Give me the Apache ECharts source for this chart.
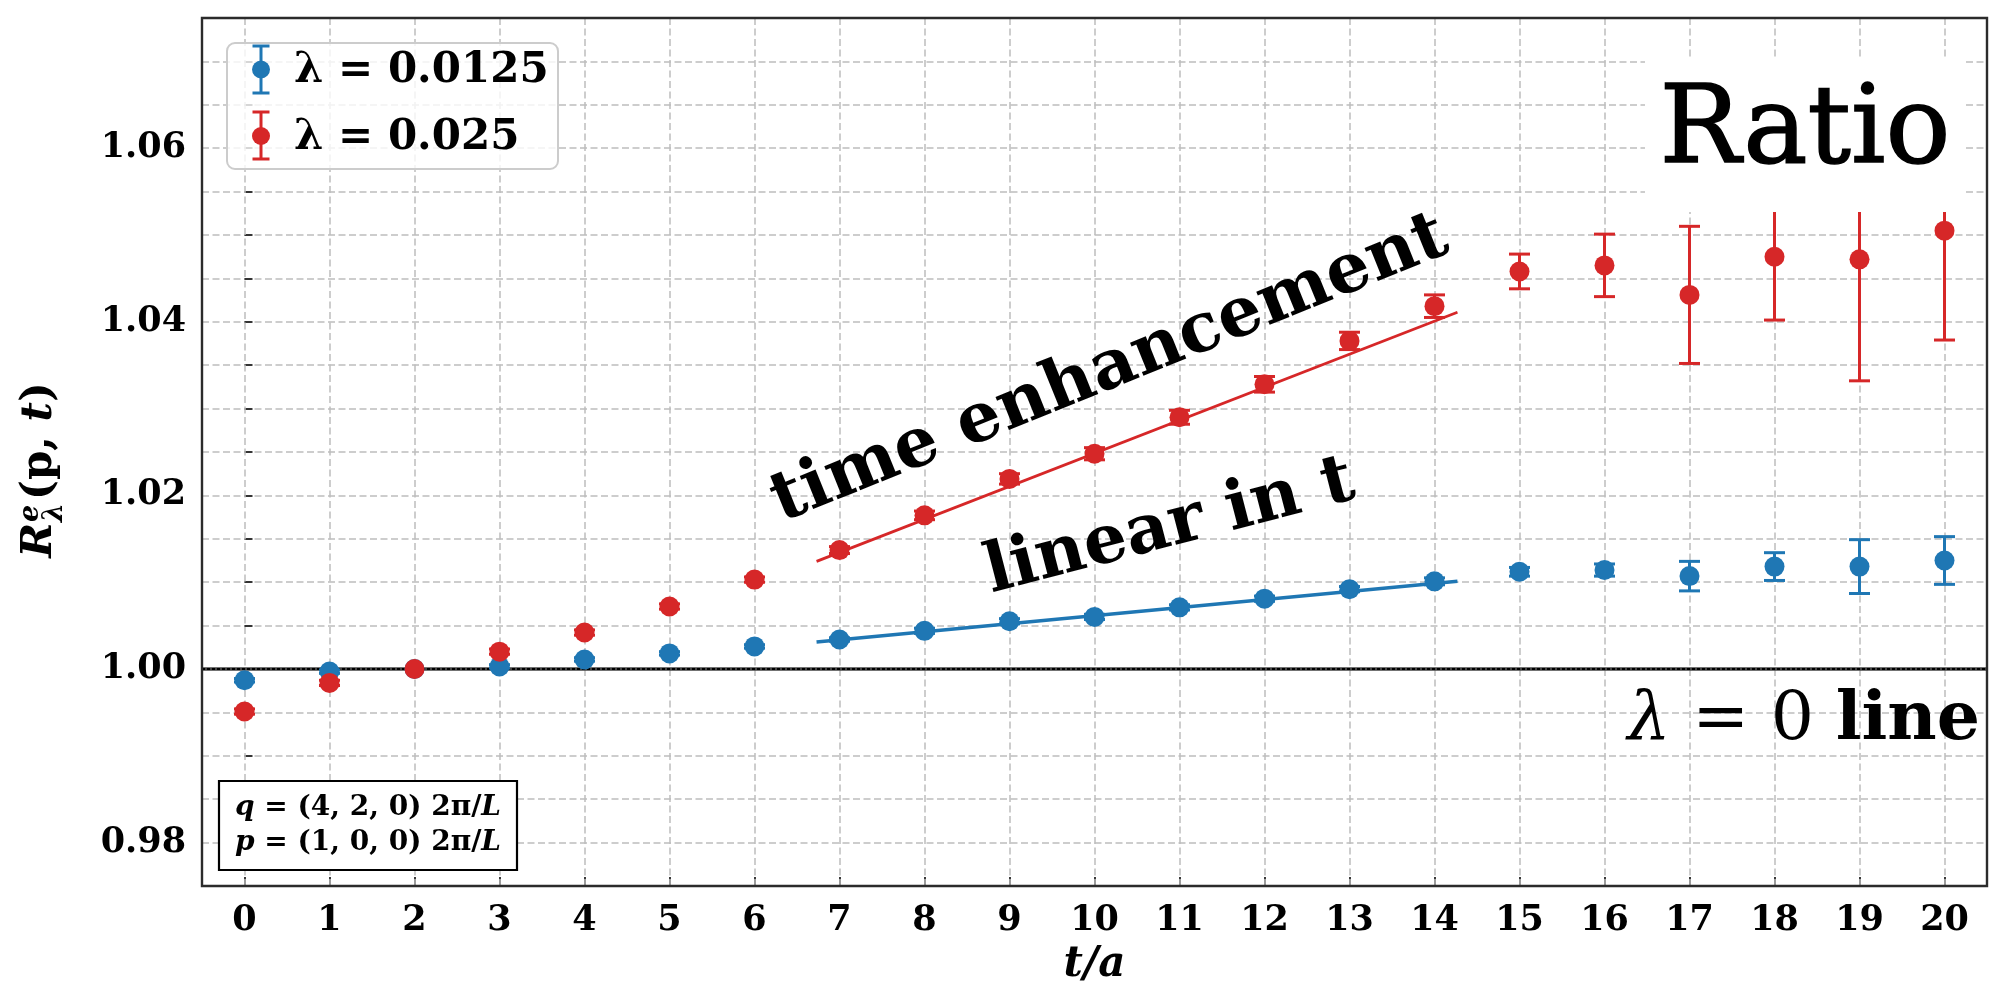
<!DOCTYPE html>
<html><head><meta charset="utf-8">
<script src="https://cdn.jsdelivr.net/npm/echarts@6/dist/echarts.min.js"></script>
<style>html,body{margin:0;padding:0;background:#fff}#c{width:1994px;height:988px}</style>
</head><body><div id="c"></div>
<script>
// ---------- data ----------
const tSteps = [0,1,2,3,4,5,6,7,8,9,10,11,12,13,14,15,16,17,18,19,20];
const xTickValues = [0,1,2,3,4,5,6,7,8,9,10,11,12,13,14,15,16,17,18,19,20];
const yTickLabels = [0.98, 1.00, 1.02, 1.04, 1.06];
const blueValues = [0.9987,0.9997,1.0000,1.0003,1.0011,1.0018,1.0026,1.0034,1.0044,1.0055,1.0060,1.0071,1.0081,1.0092,1.0101,1.0112,1.0114,1.0107,1.0118,1.0118,1.0125];
const blueErrors = [0.0002,0.0002,0,0.0002,0.0002,0.0002,0.0002,0.0002,0.0003,0.0003,0.0003,0.0003,0.0003,0.0003,0.0004,0.0005,0.0007,0.0017,0.0016,0.0031,0.00275];
const redValues = [0.9951,0.9984,1.0000,1.0020,1.0042,1.0072,1.0103,1.0137,1.0177,1.0219,1.0248,1.0290,1.0328,1.0378,1.0418,1.0458,1.0465,1.0431,1.0475,1.0472,1.0505];
const redErrors = [0.0003,0.0003,0,0.0003,0.0003,0.0003,0.0003,0.0004,0.0005,0.0006,0.0007,0.0008,0.0009,0.0010,0.0013,0.0020,0.0036,0.0079,0.0073,0.0140,0.0126];
const fitRange = [6.73, 14.27];
const blueFit = [1.0031, 1.0101];
const redFit = [1.0124, 1.0411];
const refRange = [-0.5, 20.5];
const refLevel = [1.0, 1.0];

const BLUE = '#1f77b4', RED = '#d62728';
const SERIF = 'DejaVu Serif';
const GRID_COLOR = '#bdbdbd';

const ctx = document.createElement('canvas').getContext('2d');
function tw(font, s){ ctx.font = font; return ctx.measureText(s).width; }

function errRender(color){
  return function(params, api){
    const x = api.value(0), lo = api.value(1), hi = api.value(2);
    const p1 = api.coord([x, hi]), p2 = api.coord([x, lo]);
    const hw = 10.5;
    const st = {stroke: color, lineWidth: 3};
    const ch = [{type:'line', shape:{x1:p1[0],y1:p1[1],x2:p2[0],y2:p2[1]}, style:st}];
    if (hi - lo > 0) {
      ch.push({type:'line', shape:{x1:p1[0]-hw,y1:p1[1],x2:p1[0]+hw,y2:p1[1]}, style:st});
      ch.push({type:'line', shape:{x1:p2[0]-hw,y1:p2[1],x2:p2[0]+hw,y2:p2[1]}, style:st});
    }
    return {type:'group', children: ch};
  };
}

function isMajor(v){ return yTickLabels.some(t => Math.abs(t - v) < 1e-7); }

const chart = echarts.init(document.getElementById('c'), null, {renderer:'canvas'});

// y-axis label built as a rotated group (R with stacked e / lambda)
const fR = `italic bold 42px ${SERIF}`, fS = `italic bold 27px ${SERIF}`, fN = `bold 42px ${SERIF}`;
const wR = tw(fR,'R'), wE = tw(fS,'e'), wL = tw(fS,'λ'), wO = tw(fN,'(p, '), wT = tw(fR,'t'), wC = tw(fN,')');
const wScript = Math.max(wE, wL);
const total = wR + 1 + wScript + 3 + wO + wT + wC;
let cx0 = -total/2;
function txt(x, y, s, font, align){
  return {type:'text', x:x, y:y, style:{text:s, font:font, fill:'#000', align:align||'left', textAlign:align||'left', verticalAlign:'middle', textVerticalAlign:'middle'}};
}
const yLabelChildren = [
  txt(cx0, 0, 'R', fR),
  txt(cx0 + wR + 1, -9, 'e', fS),
  txt(cx0 + wR + 1, 15, 'λ', fS),
  txt(cx0 + wR + 1 + wScript + 3, 0, '(p, ', fN),
  txt(cx0 + wR + 1 + wScript + 3 + wO, 0, 't', fR),
  txt(cx0 + wR + 1 + wScript + 3 + wO + wT, 0, ')', fN)
];

const PL = 202, PT = 18, PR = 7, PB = 102, W = 1994, H = 988;

const option = {
  animation: false,
  backgroundColor: '#fff',
  grid: {left: PL, top: PT, right: PR, bottom: PB, show: false, containLabel: false, outerBoundsMode: 'none'},
  xAxis: {
    type: 'value', min: -0.5, max: 20.5,
    axisLine: {show: false},
    axisTick: {show: true, inside: true, length: 9, customValues: xTickValues, lineStyle: {color: '#222', width: 1.8}},
    axisLabel: {customValues: xTickValues, fontFamily: SERIF, fontWeight: 'bold', fontSize: 35, color: '#000', margin: 17},
    splitLine: {show: false},
    name: 't/a', nameLocation: 'middle', nameGap: 58,
    nameTextStyle: {fontFamily: SERIF, fontStyle: 'italic', fontWeight: 'bold', fontSize: 42, color: '#000'}
  },
  yAxis: {
    type: 'value', min: 0.975, max: 1.075, interval: 0.005,
    axisLine: {show: false},
    axisTick: {show: true, inside: true, length: 8, lineStyle: {color: '#222', width: 1.8}},
    axisLabel: {formatter: v => isMajor(v) ? v.toFixed(2) : '', fontFamily: SERIF, fontWeight: 'bold', fontSize: 35, color: '#000', margin: 16},
    splitLine: {show: true, lineStyle: {color: GRID_COLOR, width: 1.5, type: [7, 3.5]}}
  },
  series: [
    { // vertical grid lines at integer t
      type: 'line', data: [], z: 1, silent: true,
      markLine: {silent: true, z: 1, symbol: 'none', animation: false, label: {show: false},
        lineStyle: {type: [7, 3.5], color: GRID_COLOR, width: 1.5},
        emphasis: {disabled: true},
        data: xTickValues.map(v => ({xAxis: v}))}
    },
    { // lambda = 0 reference line
      type: 'line', z: 2, silent: true, symbol: 'none',
      data: refRange.map((x, i) => [x, refLevel[i]]),
      lineStyle: {color: '#444', width: 3.4}
    },
    {
      type: 'line', z: 2, silent: true, symbol: 'none',
      data: refRange.map((x, i) => [x, refLevel[i]]),
      lineStyle: {color: '#000', width: 2.2, type: [3, 2]}
    },
    { // fits
      type: 'line', z: 2, silent: true, symbol: 'none',
      data: fitRange.map((x, i) => [x, blueFit[i]]),
      lineStyle: {color: BLUE, width: 3.5}
    },
    {
      type: 'line', z: 2, silent: true, symbol: 'none',
      data: fitRange.map((x, i) => [x, redFit[i]]),
      lineStyle: {color: RED, width: 2.8}
    },
    {
      type: 'custom', z: 3, name: 'blueErr',
      renderItem: errRender(BLUE),
      encode: {x: 0, y: [1, 2]},
      data: tSteps.map((t, i) => [t, blueValues[i] - blueErrors[i], blueValues[i] + blueErrors[i]])
    },
    {
      type: 'scatter', z: 3, name: 'λ = 0.0125', symbol: 'circle', symbolSize: 20,
      itemStyle: {color: BLUE, opacity: 1},
      data: tSteps.map((t, i) => [t, blueValues[i]])
    },
    {
      type: 'custom', z: 4, name: 'redErr',
      renderItem: errRender(RED),
      encode: {x: 0, y: [1, 2]},
      data: tSteps.map((t, i) => [t, redValues[i] - redErrors[i], redValues[i] + redErrors[i]])
    },
    {
      type: 'scatter', z: 4, name: 'λ = 0.025', symbol: 'circle', symbolSize: 20,
      itemStyle: {color: RED, opacity: 1},
      data: tSteps.map((t, i) => [t, redValues[i]])
    }
  ],
  graphic: [
    // plot frame
    {type: 'rect', z: 120, silent: true, shape: {x: PL, y: PT, width: W - PL - PR, height: H - PT - PB}, style: {fill: 'none', stroke: '#2b2b2b', lineWidth: 2.4}},
    // Ratio label with white box
    {type: 'rect', z: 100, shape: {x: 1645, y: 57, width: 319, height: 155}, style: {fill: '#fff'}},
    {type: 'text', z: 101, x: 1805, y: 134, style: {text: 'Ratio', font: `normal 108px ${SERIF}`, fill: '#000', stroke: '#000', lineWidth: 1.5, align: 'center', textAlign: 'center', verticalAlign: 'middle', textVerticalAlign: 'middle'}},
    // annotations
    {type: 'text', z: 101, x: 1110, y: 370, rotation: 22 * Math.PI / 180, style: {text: 'time enhancement', font: `bold 69px ${SERIF}`, fill: '#000', align: 'center', textAlign: 'center', verticalAlign: 'middle', textVerticalAlign: 'middle'}},
    {type: 'text', z: 101, x: 1170, y: 528, rotation: 14.5 * Math.PI / 180, style: {text: 'linear in t', font: `bold 68px ${SERIF}`, fill: '#000', align: 'center', textAlign: 'center', verticalAlign: 'middle', textVerticalAlign: 'middle'}},
    {type: 'text', z: 101, x: 1980, y: 721, style: {text: '{l|λ}{n| = 0 }{b|line}', align: 'right', textAlign: 'right', verticalAlign: 'middle', textVerticalAlign: 'middle', fill: '#000',
      rich: {l: {font: `italic normal 68px ${SERIF}`, fill: '#000', color: '#000'}, n: {font: `normal 68px ${SERIF}`, fill: '#000', color: '#000'}, b: {font: `bold 68px ${SERIF}`, fill: '#000', color: '#000'}}}},
    // legend
    {type: 'rect', z: 100, shape: {x: 227, y: 43, width: 331, height: 126, r: 8}, style: {fill: 'rgba(255,255,255,0.8)', stroke: '#cccccc', lineWidth: 2}},
    {type: 'line', z: 101, shape: {x1: 261, y1: 46, x2: 261, y2: 93}, style: {stroke: BLUE, lineWidth: 3}},
    {type: 'line', z: 101, shape: {x1: 252.5, y1: 46, x2: 269.5, y2: 46}, style: {stroke: BLUE, lineWidth: 3}},
    {type: 'line', z: 101, shape: {x1: 252.5, y1: 93, x2: 269.5, y2: 93}, style: {stroke: BLUE, lineWidth: 3}},
    {type: 'circle', z: 102, shape: {cx: 261, cy: 69.5, r: 9}, style: {fill: BLUE}},
    {type: 'line', z: 101, shape: {x1: 261, y1: 112, x2: 261, y2: 159}, style: {stroke: RED, lineWidth: 3}},
    {type: 'line', z: 101, shape: {x1: 252.5, y1: 112, x2: 269.5, y2: 112}, style: {stroke: RED, lineWidth: 3}},
    {type: 'line', z: 101, shape: {x1: 252.5, y1: 159, x2: 269.5, y2: 159}, style: {stroke: RED, lineWidth: 3}},
    {type: 'circle', z: 102, shape: {cx: 261, cy: 136, r: 9}, style: {fill: RED}},
    {type: 'text', z: 101, x: 294, y: 71, style: {text: 'λ = 0.0125', font: `bold 42px ${SERIF}`, fill: '#000', align: 'left', textAlign: 'left', verticalAlign: 'middle', textVerticalAlign: 'middle'}},
    {type: 'text', z: 101, x: 294, y: 138, style: {text: 'λ = 0.025', font: `bold 42px ${SERIF}`, fill: '#000', align: 'left', textAlign: 'left', verticalAlign: 'middle', textVerticalAlign: 'middle'}},
    // q / p box
    {type: 'rect', z: 100, shape: {x: 219, y: 781, width: 298, height: 89}, style: {fill: '#fff', stroke: '#000', lineWidth: 2.2}},
    {type: 'text', z: 101, x: 368, y: 808, style: {text: '{i|q}{n| = (4, 2, 0) 2π/}{i|L}', align: 'center', textAlign: 'center', verticalAlign: 'middle', textVerticalAlign: 'middle', fill: '#000',
      rich: {i: {font: `italic bold 28px ${SERIF}`, fill: '#000', color: '#000'}, n: {font: `bold 28px ${SERIF}`, fill: '#000', color: '#000'}}}},
    {type: 'text', z: 101, x: 368, y: 843, style: {text: '{i|p}{n| = (1, 0, 0) 2π/}{i|L}', align: 'center', textAlign: 'center', verticalAlign: 'middle', textVerticalAlign: 'middle', fill: '#000',
      rich: {i: {font: `italic bold 28px ${SERIF}`, fill: '#000', color: '#000'}, n: {font: `bold 28px ${SERIF}`, fill: '#000', color: '#000'}}}},
    // y-axis title
    {type: 'group', z: 101, x: 40, y: 470, rotation: Math.PI / 2, children: yLabelChildren}
  ]
};
chart.setOption(option);
</script>
</body></html>
